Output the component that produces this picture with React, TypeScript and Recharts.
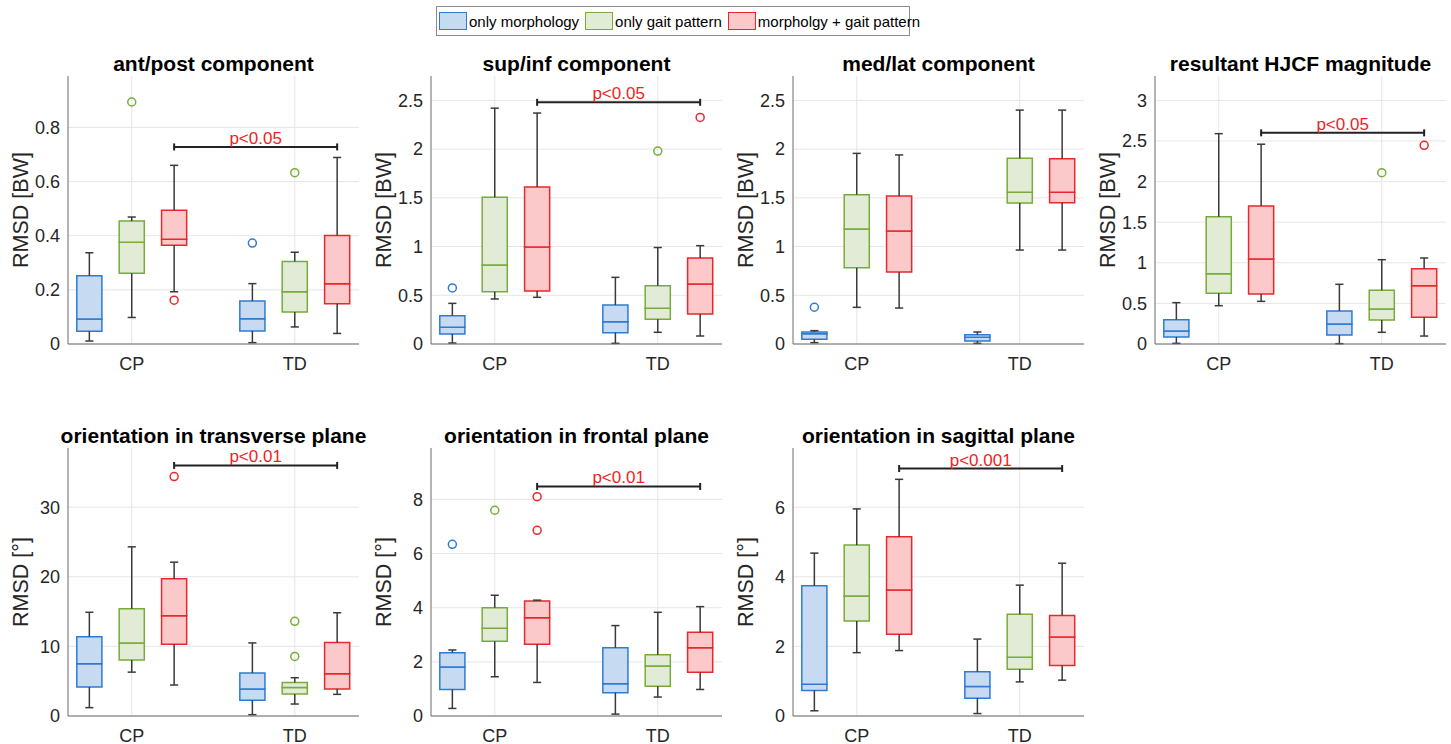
import React from "react";
import {
  ComposedChart,
  XAxis,
  YAxis,
  CartesianGrid,
  ReferenceArea,
  ReferenceLine,
  Scatter,
} from "recharts";

const groups = ["CP", "TD"];
const seriesNames = ["only morphology", "only gait pattern", "morpholgy + gait pattern"];
const edgeColors = ["#2f7bd2", "#77ac3a", "#e8282c"];
const fillColors = ["#c6dbf1", "#e2ebd5", "#fcc9ca"];

const titles = [
  "ant/post component",
  "sup/inf component",
  "med/lat component",
  "resultant HJCF magnitude",
  "orientation in transverse plane",
  "orientation in frontal plane",
  "orientation in sagittal plane",
];
const yLabels = ["RMSD [BW]", "RMSD [BW]", "RMSD [BW]", "RMSD [BW]", "RMSD [°]", "RMSD [°]", "RMSD [°]"];
const yMaxes = [0.99, 2.75, 2.75, 3.3, 38.5, 9.9, 7.7];
const yTicks = [
  [0, 0.2, 0.4, 0.6, 0.8],
  [0, 0.5, 1, 1.5, 2, 2.5],
  [0, 0.5, 1, 1.5, 2, 2.5],
  [0, 0.5, 1, 1.5, 2, 2.5, 3],
  [0, 10, 20, 30],
  [0, 2, 4, 6, 8],
  [0, 2, 4, 6],
];

// [lower whisker, q1, median, q3, upper whisker] per series, CP then TD
const antPostBoxes = [
  [[0.011, 0.047, 0.092, 0.252, 0.337], [0.005, 0.048, 0.093, 0.159, 0.223]],
  [[0.098, 0.261, 0.376, 0.454, 0.469], [0.063, 0.118, 0.193, 0.305, 0.339]],
  [[0.193, 0.365, 0.387, 0.494, 0.66], [0.039, 0.149, 0.223, 0.401, 0.689]],
];
const antPostOutliers = [[[], [0.373]], [[0.894], [0.633]], [[0.162], []]];

const supInfBoxes = [
  [[0.01, 0.103, 0.171, 0.291, 0.417], [0.007, 0.116, 0.229, 0.4, 0.684]],
  [[0.462, 0.537, 0.81, 1.505, 2.42], [0.12, 0.253, 0.366, 0.598, 0.99]],
  [[0.479, 0.544, 0.995, 1.61, 2.37], [0.082, 0.308, 0.616, 0.882, 1.009]],
];
const supInfOutliers = [[[0.575], []], [[], [1.98]], [[], [2.325]]];

const medLatBoxes = [
  [[0.014, 0.048, 0.105, 0.123, 0.137], [0.007, 0.031, 0.068, 0.096, 0.123]],
  [[0.376, 0.783, 1.18, 1.532, 1.956], [0.964, 1.447, 1.556, 1.905, 2.4]],
  [[0.369, 0.739, 1.159, 1.518, 1.94], [0.964, 1.45, 1.556, 1.9, 2.4]],
];
const medLatOutliers = [[[0.377], []], [[], []], [[], []]];

const resultantBoxes = [
  [[0.008, 0.086, 0.16, 0.3, 0.509], [0.004, 0.111, 0.246, 0.406, 0.735]],
  [[0.472, 0.624, 0.866, 1.567, 2.59], [0.144, 0.295, 0.431, 0.661, 1.038]],
  [[0.525, 0.616, 1.046, 1.7, 2.46], [0.098, 0.328, 0.718, 0.927, 1.059]],
];
const resultantOutliers = [[[], []], [[], [2.11]], [[], [2.446]]];

const transverseBoxes = [
  [[1.2, 4.16, 7.5, 11.4, 14.9], [0.19, 2.25, 3.88, 6.17, 10.5]],
  [[6.3, 8.04, 10.5, 15.4, 24.3], [1.72, 3.16, 4.11, 4.83, 5.5]],
  [[4.45, 10.3, 14.4, 19.7, 22.1], [3.11, 3.88, 6.08, 10.57, 14.83]],
];
const transverseOutliers = [[[], []], [[], [13.6, 8.56]], [[34.4], []]];

const frontalBoxes = [
  [[0.28, 0.98, 1.81, 2.34, 2.44], [0.07, 0.86, 1.19, 2.52, 3.34]],
  [[1.45, 2.76, 3.24, 4.0, 4.46], [0.7, 1.1, 1.85, 2.26, 3.83]],
  [[1.24, 2.65, 3.63, 4.25, 4.28], [0.98, 1.62, 2.52, 3.09, 4.04]],
];
const frontalOutliers = [[[6.34], []], [[7.6], []], [[8.1, 6.86], []]];

const sagittalBoxes = [
  [[0.15, 0.73, 0.91, 3.74, 4.68], [0.07, 0.51, 0.85, 1.27, 2.21]],
  [[1.82, 2.73, 3.45, 4.91, 5.95], [0.98, 1.34, 1.69, 2.92, 3.76]],
  [[1.88, 2.35, 3.62, 5.15, 6.8], [1.03, 1.45, 2.27, 2.89, 4.39]],
];
const sagittalOutliers = [[[], []], [[], []], [[], []]];

const bracketY = [0.728, 2.48, null, 2.6, 36.0, 8.48, 7.11];
const bracketText = ["p<0.05", "p<0.05", "", "p<0.05", "p<0.01", "p<0.01", "p<0.001"];

const allBoxes = [antPostBoxes, supInfBoxes, medLatBoxes, resultantBoxes, transverseBoxes, frontalBoxes, sagittalBoxes];
const allOutliers = [
  antPostOutliers,
  supInfOutliers,
  medLatOutliers,
  resultantOutliers,
  transverseOutliers,
  frontalOutliers,
  sagittalOutliers,
];

// layout
const PLOT_LEFT = [68, 431, 793, 1155];
const PLOT_TOP = [76, 448];
const PLOT_W = 291;
const PLOT_H = 268;
const X_DOMAIN: [number, number] = [0.609, 2.394];
const OFFSETS = [-0.26, 0, 0.26];
const BOX_HALF = 0.077;
const CAP_HALF = 0.025;
const WHISKER = "#3a3a3a";
const FONT = "'Liberation Sans', Arial, sans-serif";

function Outlier(props: any) {
  const { cx, cy, color } = props;
  if (cx == null || cy == null) return null;
  return <circle cx={cx} cy={cy} r={4} fill="none" stroke={color} strokeWidth={1.5} />;
}

function BoxPanel({ idx }: { idx: number }) {
  const col = idx % 4;
  const row = Math.floor(idx / 4);
  const left = PLOT_LEFT[col];
  const top = PLOT_TOP[row];
  const ymax = yMaxes[idx];
  const boxes = allBoxes[idx];
  const outliers = allOutliers[idx];
  const tickH = (3.5 / PLOT_H) * ymax;
  const by = bracketY[idx];

  const marks: React.ReactNode[] = [];
  boxes.forEach((series, s) => {
    series.forEach((st, g) => {
      const cx = g + 1 + OFFSETS[s];
      const [lo, q1, med, q3, hi] = st;
      const k = `${s}-${g}`;
      marks.push(
        <ReferenceLine key={`wu${k}`} segment={[{ x: cx, y: q3 }, { x: cx, y: hi }]} stroke={WHISKER} strokeWidth={1.5} />,
        <ReferenceLine key={`wl${k}`} segment={[{ x: cx, y: lo }, { x: cx, y: q1 }]} stroke={WHISKER} strokeWidth={1.5} />,
        <ReferenceLine key={`cu${k}`} segment={[{ x: cx - CAP_HALF, y: hi }, { x: cx + CAP_HALF, y: hi }]} stroke={WHISKER} strokeWidth={1.5} />,
        <ReferenceLine key={`cl${k}`} segment={[{ x: cx - CAP_HALF, y: lo }, { x: cx + CAP_HALF, y: lo }]} stroke={WHISKER} strokeWidth={1.5} />,
        <ReferenceArea key={`bl${k}`} x1={cx - BOX_HALF} x2={cx + BOX_HALF} y1={q1} y2={med} fill={fillColors[s]} fillOpacity={1} stroke={edgeColors[s]} strokeWidth={1.5} />,
        <ReferenceArea key={`bu${k}`} x1={cx - BOX_HALF} x2={cx + BOX_HALF} y1={med} y2={q3} fill={fillColors[s]} fillOpacity={1} stroke={edgeColors[s]} strokeWidth={1.5} />
      );
    });
  });

  if (by != null) {
    const x1 = 1 + OFFSETS[2];
    const x2 = 2 + OFFSETS[2];
    marks.push(
      <ReferenceLine
        key="br"
        segment={[{ x: x1, y: by }, { x: x2, y: by }]}
        stroke="#222"
        strokeWidth={2}
        label={{ value: bracketText[idx], position: "top", fill: "#f01e1e", fontSize: 17, offset: 3 }}
      />,
      <ReferenceLine key="brl" segment={[{ x: x1, y: by - tickH }, { x: x1, y: by + tickH }]} stroke="#222" strokeWidth={2} />,
      <ReferenceLine key="brr" segment={[{ x: x2, y: by - tickH }, { x: x2, y: by + tickH }]} stroke="#222" strokeWidth={2} />
    );
  }

  const outlierSeries = outliers.map((series, s) => {
    const pts: { x: number; y: number }[] = [];
    series.forEach((vals, g) => vals.forEach((v) => pts.push({ x: g + 1 + OFFSETS[s], y: v })));
    return pts;
  });

  return (
    <>
      <div
        style={{
          position: "absolute",
          left: left + PLOT_W / 2,
          top: top - 13,
          transform: "translate(-50%, -50%)",
          whiteSpace: "nowrap",
          fontWeight: "bold",
          fontSize: 21,
          lineHeight: 1,
          color: "#000",
        }}
      >
        {titles[idx]}
      </div>
      <div
        style={{
          position: "absolute",
          left: left - 46,
          top: top + PLOT_H / 2,
          transform: "translate(-50%, -50%) rotate(-90deg)",
          whiteSpace: "nowrap",
          fontSize: 21.5,
          lineHeight: 1,
          color: "#262626",
        }}
      >
        {yLabels[idx]}
      </div>
      <div style={{ position: "absolute", left: left - 60, top: top - 10 }}>
        <ComposedChart width={60 + PLOT_W + 10} height={10 + PLOT_H + 34} margin={{ top: 10, right: 10, bottom: 0, left: 0 }}>
          <CartesianGrid stroke="#e6e6e6" syncWithTicks />
          <XAxis
            type="number"
            dataKey="x"
            domain={X_DOMAIN}
            ticks={[1, 2]}
            allowDataOverflow
            tickFormatter={(v: number) => groups[v - 1]}
            tickLine={false}
            tickMargin={7}
            stroke="#6b6b6b"
            tick={{ fill: "#262626", fontSize: 18 }}
            height={34}
          />
          <YAxis
            type="number"
            dataKey="y"
            domain={[0, ymax]}
            ticks={yTicks[idx]}
            allowDataOverflow
            tickLine={false}
            stroke="#6b6b6b"
            tick={{ fill: "#262626", fontSize: 18 }}
            width={60}
          />
          {marks}
          {outlierSeries.map((pts, s) => (
            <Scatter
              key={`o${s}`}
              name={seriesNames[s]}
              data={pts}
              dataKey="y"
              isAnimationActive={false}
              shape={(p: any) => <Outlier {...p} color={edgeColors[s]} />}
            />
          ))}
        </ComposedChart>
      </div>
    </>
  );
}

function Legend() {
  return (
    <div
      style={{
        position: "absolute",
        left: 436,
        top: 6,
        width: 474,
        height: 30,
        boxSizing: "border-box",
        border: "1px solid #8c8c8c",
        background: "#fff",
        display: "flex",
        alignItems: "center",
        fontSize: 15,
        color: "#000",
      }}
    >
      {seriesNames.map((n, i) => (
        <div key={n} style={{ display: "flex", alignItems: "center", marginLeft: i === 0 ? 2 : 6 }}>
          <span
            style={{
              display: "inline-block",
              width: 28,
              height: 18,
              boxSizing: "border-box",
              border: `1.5px solid ${edgeColors[i]}`,
              background: fillColors[i],
              marginRight: 2,
            }}
          />
          <span style={{ whiteSpace: "nowrap" }}>{n}</span>
        </div>
      ))}
    </div>
  );
}

export default function App() {
  return (
    <div
      style={{
        position: "absolute",
        left: 0,
        top: 0,
        width: 1451,
        height: 744,
        background: "#fff",
        fontFamily: FONT,
      }}
    >
      <Legend />
      {titles.map((_, i) => (
        <BoxPanel key={i} idx={i} />
      ))}
    </div>
  );
}
